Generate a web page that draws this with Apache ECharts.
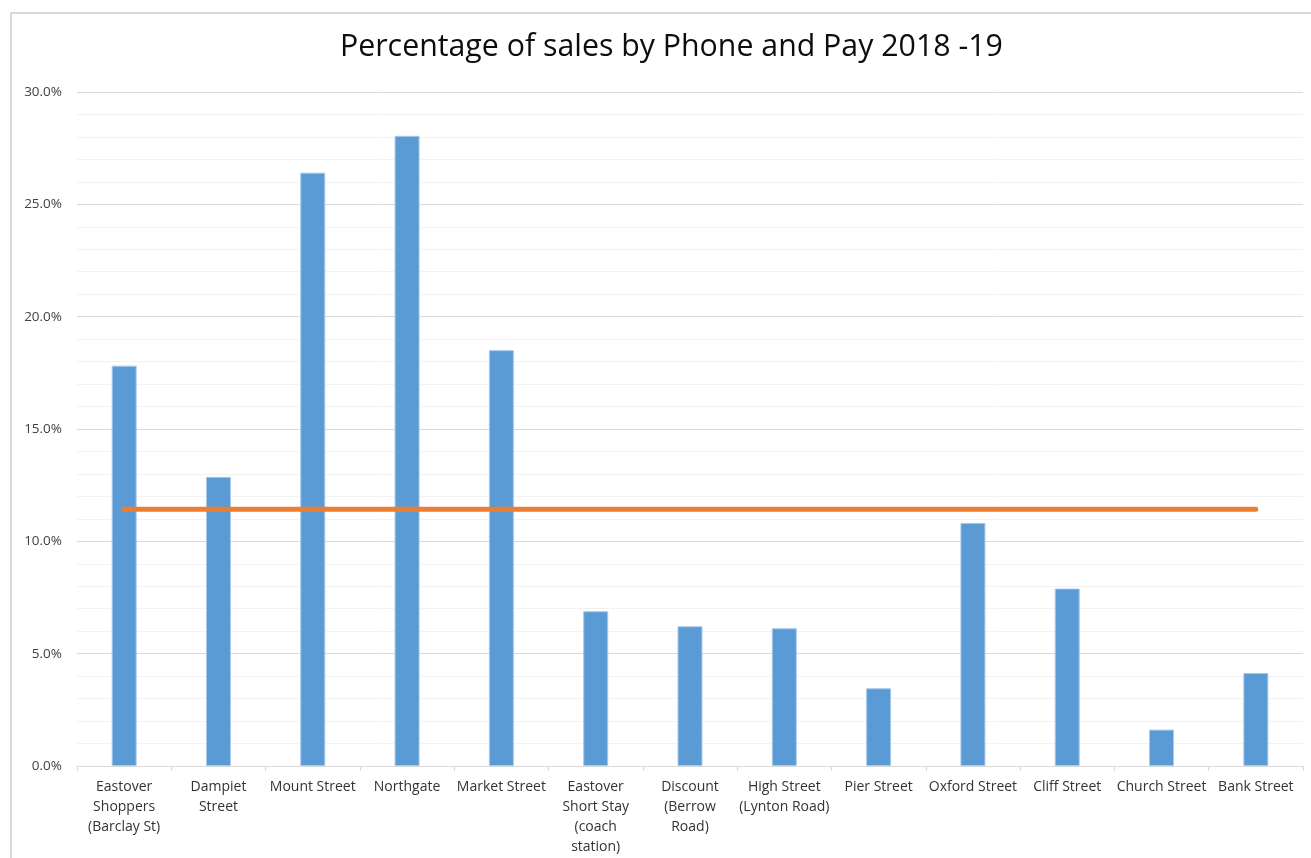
<!DOCTYPE html>
<html>
<head>
<meta charset="utf-8">
<script src="https://cdn.jsdelivr.net/npm/echarts@6/dist/echarts.min.js"></script>
<style>
  html, body { margin: 0; padding: 0; background: #fff; }
  #chart { width: 1311px; height: 858px; }
</style>
</head>
<body>
<div id="chart"></div>
<script>
// Car park / site names along the category axis
const sites = [
  'Eastover\nShoppers\n(Barclay St)',
  'Dampiet\nStreet',
  'Mount Street',
  'Northgate',
  'Market Street',
  'Eastover\nShort Stay\n(coach\nstation)',
  'Discount\n(Berrow\nRoad)',
  'High Street\n(Lynton Road)',
  'Pier Street',
  'Oxford Street',
  'Cliff Street',
  'Church Street',
  'Bank Street'
];

// Share of sales paid by phone, per site (%)
const phoneSharePct = [17.82, 12.87, 26.41, 28.05, 18.51, 6.89, 6.22, 6.13, 3.46, 10.82, 7.90, 1.62, 4.14];

// Overall reference level drawn across the sites (%)
const referencePct = [11.43, 11.43, 11.43, 11.43, 11.43, 11.43, 11.43, 11.43, 11.43, 11.43, 11.43, 11.43, 11.43];

// Value axis settings
const yMin = 0;
const yMax = 30;
const yStep = 5;

const chart = echarts.init(document.getElementById('chart'), null, { renderer: 'canvas' });

chart.setOption({
  animation: false,
  backgroundColor: '#ffffff',
  title: {
    text: 'Percentage of sales by Phone and Pay 2018 -19',
    left: 335,
    top: 27,
    textStyle: {
      fontFamily: 'Open Sans',
      fontSize: 30.3,
      fontWeight: 'normal',
      color: '#0d0d0d'
    }
  },
  graphic: [{
    type: 'rect',
    silent: true,
    shape: { x: 11, y: 13, width: 1400, height: 900 },
    style: { fill: 'none', stroke: '#d9d9d9', lineWidth: 2 }
  }],
  grid: {
    left: 77,
    right: 8,
    top: 92,
    bottom: 92,
    containLabel: false
  },
  xAxis: {
    type: 'category',
    data: sites,
    boundaryGap: true,
    axisLine: { show: true, lineStyle: { color: '#d9d9d9', width: 1 } },
    axisTick: { show: true, length: 5, lineStyle: { color: '#d9d9d9' } },
    axisLabel: {
      interval: 0,
      margin: 11,
      fontFamily: 'Open Sans',
      fontSize: 14,
      lineHeight: 20,
      color: '#333333',
      align: 'center'
    },
    splitLine: { show: false }
  },
  yAxis: {
    type: 'value',
    min: yMin,
    max: yMax,
    interval: yStep,
    axisLine: { show: false },
    axisTick: { show: false },
    axisLabel: {
      margin: 15,
      fontFamily: 'Open Sans',
      fontSize: 13.5,
      color: '#404040',
      formatter: v => v.toFixed(1) + '%'
    },
    splitLine: { show: true, lineStyle: { color: '#d9d9d9', width: 1 } },
    minorTick: { show: false, splitNumber: 5 },
    minorSplitLine: { show: true, lineStyle: { color: '#f2f2f2', width: 1 } }
  },
  series: [
    {
      name: 'Phone and Pay',
      type: 'bar',
      data: phoneSharePct,
      barWidth: 25,
      itemStyle: {
        color: '#5b9bd5',
        borderColor: '#a8c9ea',
        borderWidth: 1
      }
    },
    {
      name: 'Reference',
      type: 'line',
      data: referencePct,
      symbol: 'none',
      lineStyle: { color: '#ed7d31', width: 5, cap: 'round' },
      z: 5
    }
  ]
});
</script>
</body>
</html>
